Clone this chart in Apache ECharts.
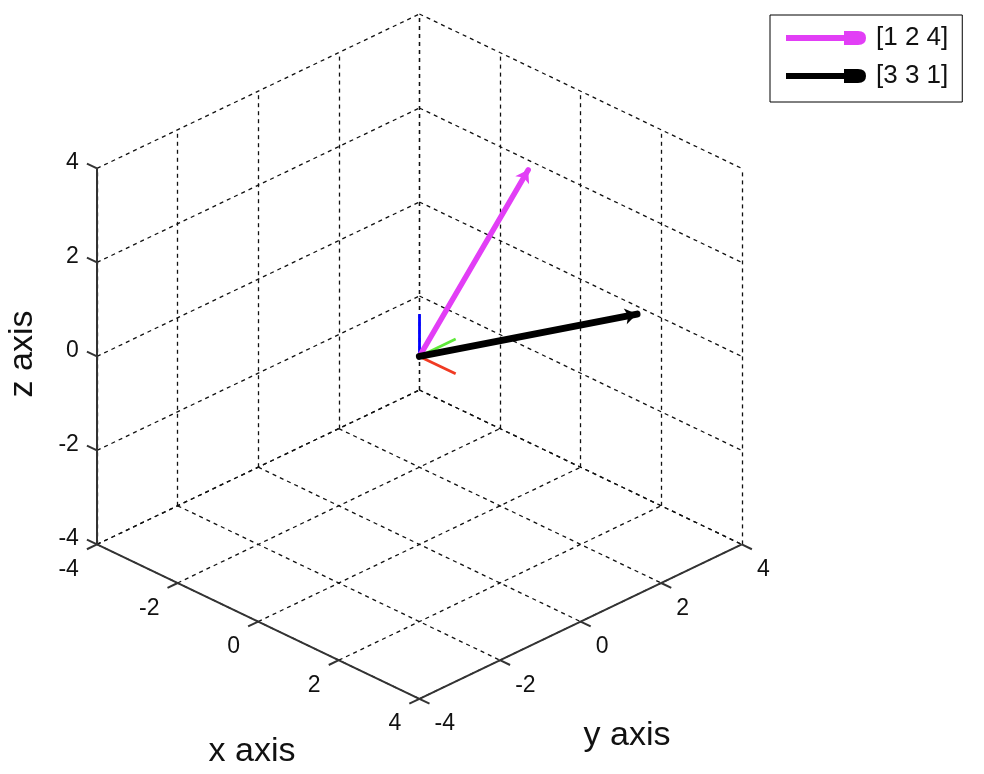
<!DOCTYPE html>
<html>
<head>
<meta charset="utf-8">
<script src="https://cdn.jsdelivr.net/npm/echarts@6/dist/echarts.min.js"></script>
<style>
  html, body { margin: 0; padding: 0; background: #fff; }
  #chart { width: 984px; height: 774px; }
</style>
</head>
<body>
<div id="chart"></div>
<script>
// ---------------- data ----------------
const tickValues = [-4, -2, 0, 2, 4];
const tickLabels = ['-4', '-2', '0', '2', '4'];
const axisLimits = [-4, 4];
const vectorNames = ['[1 2 4]', '[3 3 1]'];
const vectorA = [1, 2, 4];
const vectorB = [3, 3, 1];
const triadVectors = [[1, 0, 0], [0, 1, 0], [0, 0, 1]];
const axisTitles = ['x axis', 'y axis', 'z axis'];
const quiverScale = 0.9;   // MATLAB quiver3 AutoScaleFactor

// ---------------- view (projection) ----------------
const KX = 40.3, KY = 19.3, KZ = 47;
function P(x, y, z) { return [KX * (x + y), KY * (y - x) + KZ * z]; }
const lo = axisLimits[0], hi = axisLimits[1];
const uMax = P(hi, hi, 0)[0];
const vMax = P(lo, hi, hi)[1];

const FONT = '"Liberation Sans", Arial, sans-serif';
const colors = { a: '#E23EF6', b: '#000000', triad: ['#F03A22', '#5FEA3A', '#0000FF'] };

function seg(p, q) { return { coords: [P(p[0], p[1], p[2]), P(q[0], q[1], q[2])] }; }

// grid lines on back planes and floor
const gridLines = [];
tickValues.forEach(t => {
  gridLines.push(seg([lo, t, lo], [lo, t, hi]));
  gridLines.push(seg([lo, lo, t], [lo, hi, t]));
  gridLines.push(seg([t, hi, lo], [t, hi, hi]));
  gridLines.push(seg([lo, hi, t], [hi, hi, t]));
  gridLines.push(seg([t, lo, lo], [t, hi, lo]));
  gridLines.push(seg([lo, t, lo], [hi, t, lo]));
});
const axisLines = [
  seg([lo, lo, lo], [hi, lo, lo]),
  seg([hi, lo, lo], [hi, hi, lo]),
  seg([lo, lo, lo], [lo, lo, hi])
];
const TL = 0.25, LO = 0.45;
const tickMarks = [];
const labelItems = [];
tickValues.forEach((t, i) => {
  tickMarks.push(seg([t, lo, lo], [t, lo - TL, lo]));
  tickMarks.push(seg([hi, t, lo], [hi + TL, t, lo]));
  tickMarks.push(seg([lo, lo, t], [lo - TL, lo, t]));
  labelItems.push({ p: P(t, lo - LO, lo), text: tickLabels[i], align: 'right', va: 'top', dx: 0, dy: 5 });
  labelItems.push({ p: P(hi + LO, t, lo), text: tickLabels[i], align: 'left', va: 'top', dx: -3, dy: 5 });
  labelItems.push({ p: P(lo - LO, lo, t), text: tickLabels[i], align: 'right', va: 'middle', dx: 0, dy: 3 });
});

function quiver(v) { return [seg([0, 0, 0], [v[0] * quiverScale, v[1] * quiverScale, v[2] * quiverScale])]; }

const legendIcon = 'path://M0,5 L58,5 L58,1 L72,1 Q80,1 80,8 Q80,15 72,15 L58,15 L58,11 L0,11 Z';

const chart = echarts.init(document.getElementById('chart'), null, { renderer: 'canvas' });
chart.setOption({
  animation: false,
  backgroundColor: '#fff',
  grid: { left: 97, top: 14, width: 2 * uMax, height: 2 * vMax, containLabel: false, show: false },
  xAxis: { type: 'value', min: -uMax, max: uMax, show: false },
  yAxis: { type: 'value', min: -vMax, max: vMax, show: false },
  legend: {
    left: 770, top: 15, orient: 'vertical',
    padding: [10, 14, 13, 16],
    itemGap: 12, itemWidth: 80, itemHeight: 16,
    borderColor: '#000', borderWidth: 1, borderRadius: 0,
    backgroundColor: '#fff',
    textStyle: { fontFamily: FONT, fontSize: 26, color: '#111', padding: [4, 0, 0, 5] },
    selectedMode: false,
    data: [
      { name: vectorNames[0], icon: legendIcon, itemStyle: { color: colors.a, borderWidth: 0 } },
      { name: vectorNames[1], icon: legendIcon, itemStyle: { color: colors.b, borderWidth: 0 } }
    ]
  },
  graphic: [
    { type: 'text', x: 252, y: 752, style: { text: axisTitles[0], font: '34px ' + FONT, fill: '#111', align: 'center', verticalAlign: 'middle' } },
    { type: 'text', x: 627, y: 736, style: { text: axisTitles[1], font: '34px ' + FONT, fill: '#111', align: 'center', verticalAlign: 'middle' } },
    { type: 'text', x: 23, y: 354, rotation: Math.PI / 2, style: { text: axisTitles[2], font: '34px ' + FONT, fill: '#111', align: 'center', verticalAlign: 'middle' } }
  ],
  series: [
    { type: 'lines', coordinateSystem: 'cartesian2d', silent: true, clip: false, z: 1,
      lineStyle: { color: '#111', width: 1.3, type: [4, 4], opacity: 1 }, data: gridLines },
    { type: 'lines', coordinateSystem: 'cartesian2d', silent: true, clip: false, z: 2,
      lineStyle: { color: '#333', width: 2, type: 'solid', opacity: 1 }, data: axisLines.concat(tickMarks) },
    { type: 'custom', coordinateSystem: 'cartesian2d', silent: true, clip: false, z: 3,
      data: labelItems.map(l => l.p),
      renderItem: function (params, api) {
        const it = labelItems[params.dataIndex];
        const pt = api.coord(it.p);
        return { type: 'text', x: pt[0] + it.dx, y: pt[1] + it.dy,
          style: { text: it.text, font: '23px ' + FONT, fill: '#111', align: it.align, verticalAlign: it.va } };
      }
    },
    ...triadVectors.map((v, i) => ({
      type: 'lines', coordinateSystem: 'cartesian2d', silent: true, clip: false, z: 4,
      lineStyle: { color: colors.triad[i], width: 2.8, opacity: 1 }, data: quiver(v)
    })),
    { name: vectorNames[0], type: 'lines', coordinateSystem: 'cartesian2d', silent: true, clip: false, z: 5,
      itemStyle: { color: colors.a },
      symbol: ['none', 'arrow'], symbolSize: 12,
      lineStyle: { color: colors.a, width: 5.5, opacity: 1, cap: 'round' }, data: quiver(vectorA) },
    { name: vectorNames[1], type: 'lines', coordinateSystem: 'cartesian2d', silent: true, clip: false, z: 6,
      itemStyle: { color: colors.b },
      symbol: ['none', 'arrow'], symbolSize: 12,
      lineStyle: { color: colors.b, width: 7, opacity: 1, cap: 'round' }, data: quiver(vectorB) }
  ]
});
</script>
</body>
</html>
